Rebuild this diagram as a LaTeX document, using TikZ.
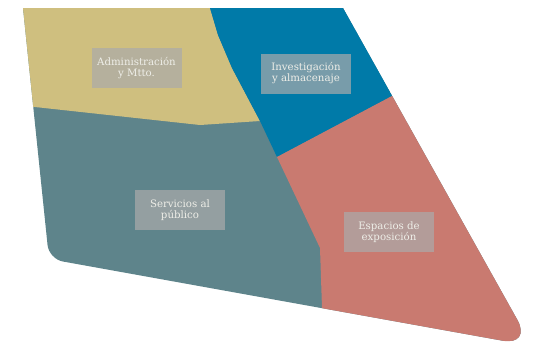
\documentclass[tikz,border=0pt]{standalone}
\usepackage{fontspec}
\newfontfamily\zonefont{DejaVu Serif}
\usetikzlibrary{positioning}
\definecolor{admcolor}{RGB}{207,191,127}
\definecolor{invcolor}{RGB}{0,122,168}
\definecolor{servcolor}{RGB}{94,132,139}
\definecolor{espcolor}{RGB}{201,122,112}
\definecolor{tagcolor}{RGB}{171,171,171}
\definecolor{tagtext}{RGB}{238,238,232}

\begin{document}
\begin{tikzpicture}[x=1pt,y=-1pt,
    tag/.style={fill=tagcolor,fill opacity=0.7,text opacity=1,text=tagtext,
        font=\zonefont\fontsize{10.2}{11}\selectfont,align=center,
        minimum width=90pt,minimum height=40pt,inner sep=0pt}]
    \useasboundingbox (0,0) rectangle (538,341);
    % plan outline and zones
    \coordinate (tl) at (23,8);
    \coordinate (tr) at (343,8);
    \coordinate (br) at (532,346);
    \coordinate (bl) at (49,259);
    \coordinate (ka) at (210,8);
    \coordinate (kb) at (260,121);
    \coordinate (kc) at (35,107);
    \coordinate (mid) at (277,157);
    \coordinate (rb) at (392,96);
    \coordinate (sb) at (320,248);
    \coordinate (sc) at (322,308);
    \begin{scope}
        \clip (tl) -- (tr) [rounded corners=30pt] -- (br) [rounded corners=14pt] -- (bl) [sharp corners] -- cycle;
        \fill[servcolor] (0,0) rectangle (538,341);
        \fill[admcolor] (0,0) -- (ka) -- (218,35) -- (232,68) -- (kb) -- (200,125) -- (kc) -- (0,105) -- cycle;
        \fill[invcolor] (ka) -- (350,0) -- (rb) -- (mid) -- (kb) -- (232,68) -- (218,35) -- cycle;
        \fill[espcolor] (rb) -- (560,96) -- (560,380) -- (sc) -- (sb) -- (mid) -- cycle;
    \end{scope}
    % labels
    \node[tag] (adm) at (136.5,68) {Administración\\y Mtto.};
    \node[tag] (inv) at (306,73.5) {Investigación\\y almacenaje};
    \node[tag] (serv) at (180,210) {Servicios al\\público};
    \node[tag] (esp) at (389,232) {Espacios de\\exposición};
\end{tikzpicture}
\end{document}
